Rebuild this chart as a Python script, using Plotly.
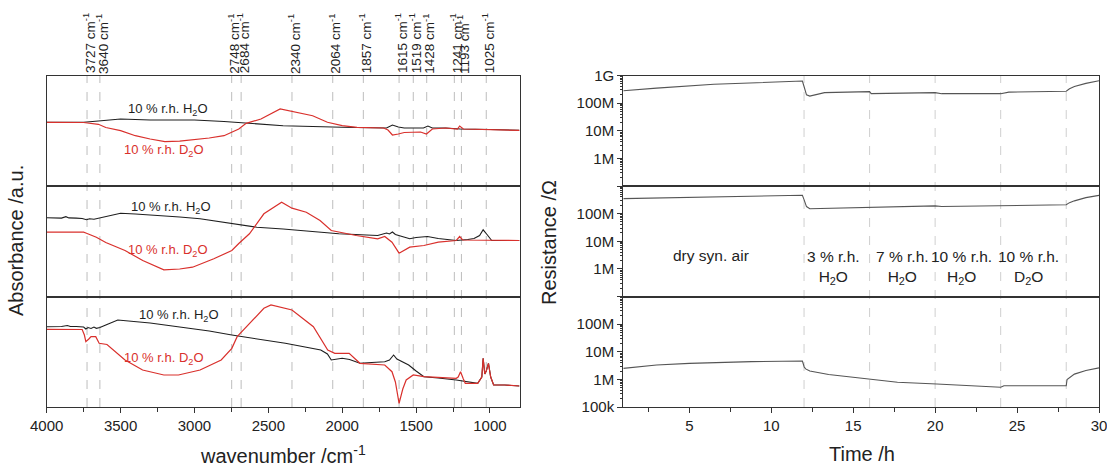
import plotly.graph_objects as go

# ---------------- data: FTIR spectra (absorbance, arbitrary units) ----------------
wn1_h2o = [4000, 3750, 3650, 3500, 3300, 3000, 2800, 2650, 2400, 2000, 1750, 1700, 1660, 1620, 1580, 1450, 1420, 1390, 1300, 1200, 1000, 800]
a1_h2o = [63.7, 63.7, 65, 67, 66, 66, 64.5, 62.7, 60.3, 58.7, 58, 58, 61, 59, 58, 58, 60, 58, 58, 57, 56.5, 55.7]

wn1_d2o = [4000, 3750, 3650, 3600, 3500, 3400, 3300, 3200, 3100, 3000, 2900, 2800, 2700, 2650, 2550, 2420, 2340, 2200, 2100, 2000, 1900, 1750, 1720, 1690, 1660, 1620, 1580, 1470, 1430, 1390, 1300, 1220, 1205, 1180, 1000, 800]
a1_d2o = [63.7, 63.5, 61.7, 58.5, 55.3, 50.3, 47, 44.3, 44.8, 46.3, 48, 50.3, 57, 62.7, 67, 77, 74.3, 70.3, 63.7, 60.3, 58.7, 58, 58, 56, 51, 52, 53.5, 54, 52, 57, 58, 57, 60, 57, 56.5, 55.7]

wn2_h2o = [4000, 3950, 3900, 3870, 3850, 3800, 3760, 3730, 3710, 3680, 3650, 3600, 3500, 3400, 3230, 3100, 2962, 2773, 2578, 2400, 2266, 2023, 1760, 1730, 1700, 1680, 1660, 1640, 1600, 1543, 1500, 1423, 1350, 1228, 1150, 1108, 1070, 1046, 1020, 988, 900, 800]
a2_h2o = [78.7, 78.9, 78.4, 79.8, 78.6, 78.4, 78.0, 76.8, 77.8, 77.2, 78.2, 80.5, 83.3, 82.5, 81, 79.5, 77.7, 73.3, 69.3, 67.5, 66, 62.7, 61, 62, 63.5, 62.5, 64.5, 62, 60, 57.7, 59, 60, 58, 56, 57, 58, 61, 66.7, 62, 56, 56, 56]

wn2_d2o = [4000, 3750, 3735, 3664, 3600, 3470, 3350, 3207, 3100, 3013, 2869, 2747, 2700, 2628, 2530, 2410, 2340, 2243, 2150, 2074, 1905, 1760, 1712, 1680, 1663, 1615, 1580, 1543, 1447, 1350, 1228, 1205, 1185, 1000, 800]
a2_d2o = [64.3, 64.3, 63.5, 59.3, 54, 46, 36, 26.7, 27.5, 29.3, 37.7, 46, 53, 62.7, 82.7, 94.3, 88.3, 84.3, 76, 66, 61, 57.7, 60, 56, 54.3, 43.3, 46, 49.3, 51, 54.3, 56, 60, 56.5, 56, 56]

wn3_h2o = [4000, 3900, 3860, 3840, 3800, 3750, 3735, 3720, 3700, 3680, 3664, 3640, 3600, 3519, 3300, 3108, 2900, 2747, 2500, 2385, 2145, 2100, 2074, 2000, 1950, 1880, 1800, 1712, 1680, 1652, 1630, 1590, 1550, 1500, 1447, 1350, 1228, 1083, 1055, 1046, 1035, 1025, 1010, 995, 975, 900, 800]
a3_h2o = [80.3, 80.5, 81.5, 80.5, 80.5, 80, 78.0, 79.5, 78.5, 80, 78.7, 79.5, 82, 87, 84, 80.3, 76, 72, 66.5, 63.7, 57, 53, 47, 48.7, 47.5, 43.7, 44.5, 45.3, 47, 52, 48, 45.3, 42, 36, 30.3, 29, 27, 23.7, 30, 48.7, 33, 36, 43.7, 30, 22, 22, 21]

wn3_d2o = [4000, 3760, 3745, 3735, 3715, 3700, 3668, 3655, 3645, 3592, 3470, 3351, 3207, 3108, 2962, 2819, 2747, 2711, 2628, 2530, 2482, 2400, 2340, 2195, 2098, 2050, 1953, 1880, 1712, 1663, 1640, 1615, 1590, 1567, 1519, 1447, 1228, 1215, 1199, 1180, 1167, 1083, 1055, 1046, 1035, 1025, 1010, 995, 975, 900, 800]
a3_d2o = [77.7, 77.5, 72, 65.3, 68, 70.3, 70.3, 67, 63.7, 62.5, 47, 37, 32, 32, 37, 47, 58.7, 70.3, 83.7, 98.7, 102, 99.5, 97, 80.3, 57, 53.7, 53.7, 43.7, 42, 35.3, 25, 3.7, 18, 27, 32, 30.3, 28.7, 30, 35.3, 28, 23.7, 23.7, 30, 48.7, 33, 36, 43.7, 30, 22, 22, 21]

peak_wn = [3727, 3640, 2748, 2684, 2340, 2064, 1857, 1615, 1519, 1428, 1241, 1193, 1025]

# ---------------- data: resistance vs time ----------------
t_top = [0.97, 3, 6.5, 9, 11.9, 12.0, 12.15, 12.35, 13.25, 16.0, 16.1, 20.0, 20.4, 24.0, 24.5, 28.0, 28.2, 28.5, 29.2, 30]
r_top = [2.8e8, 3.5e8, 4.8e8, 5.5e8, 6.3e8, 4.0e8, 2.0e8, 1.8e8, 2.4e8, 2.6e8, 2.2e8, 2.4e8, 2.2e8, 2.2e8, 2.5e8, 2.7e8, 3.3e8, 4.0e8, 5.2e8, 6.5e8]

t_mid = [0.97, 4, 8, 11.9, 12.0, 12.15, 12.35, 14, 16.0, 16.1, 20.0, 20.4, 24.0, 28.0, 28.2, 28.5, 29.2, 30]
r_mid = [3.5e8, 3.8e8, 4.3e8, 4.6e8, 3.2e8, 1.8e8, 1.5e8, 1.6e8, 1.7e8, 1.66e8, 1.9e8, 1.8e8, 1.9e8, 2.1e8, 2.5e8, 2.9e8, 3.8e8, 4.6e8]

t_bot = [0.97, 3, 5, 8.8, 11.9, 12.01, 12.1, 12.35, 13.5, 15.5, 16.0, 17.7, 20.1, 22.2, 23.8, 24.0, 24.2, 24.5, 28.0, 28.05, 28.5, 29.2, 30]
r_bot = [2.5e6, 3.3e6, 3.8e6, 4.4e6, 4.6e6, 2.8e6, 2.4e6, 2.0e6, 1.5e6, 1.12e6, 9.8e5, 7.9e5, 6.8e5, 6.0e5, 5.5e5, 5.2e5, 5.9e5, 5.9e5, 5.9e5, 9.8e5, 1.55e6, 2.1e6, 2.6e6]

switch_times = [12, 16, 20, 24, 28]
phase_labels = ["dry syn. air", "3 % r.h.<br>H<sub>2</sub>O", "7 % r.h.<br>H<sub>2</sub>O",
                "10 % r.h.<br>H<sub>2</sub>O", "10 % r.h.<br>D<sub>2</sub>O"]
phase_x = [6.3, 13.8, 18.0, 21.6, 25.7]

r_tickvals = [1e5, 1e6, 1e7, 1e8, 1e9]
r_ticktext_top = ["", "1M", "10M", "100M", "1G"]
r_ticktext_mid = ["", "1M", "10M", "100M", ""]
r_ticktext_bot = ["100k", "1M", "10M", "100M", ""]

# ---------------- layout geometry ----------------
W, H = 1107, 469
FONT = "Liberation Sans, Arial, sans-serif"
TXT = "#222222"
BLACK = "#1e1e1e"
RED = "#d9302c"
GREY = "#555555"


def px_x(p):
    return p / W


def px_y(p):
    return 1 - p / H


top_px, bot_px = 75.5, 407.0
step = (bot_px - top_px) / 3
bounds = [top_px + i * step for i in range(4)]
ydoms = [[px_y(bounds[i + 1]), px_y(bounds[i])] for i in range(3)]  # index 0 = top panel
left_dom = [px_x(46.7), px_x(519.5)]
right_dom = [px_x(623.3), px_x(1099.0)]

fig = go.Figure()

spectra = [(wn1_h2o, a1_h2o, wn1_d2o, a1_d2o), (wn2_h2o, a2_h2o, wn2_d2o, a2_d2o), (wn3_h2o, a3_h2o, wn3_d2o, a3_d2o)]
for i, (xh, yh, xd, yd) in enumerate(spectra):
    ax = "" if i == 0 else str(i + 1)
    fig.add_trace(go.Scatter(x=xh, y=yh, mode="lines", line=dict(color=BLACK, width=1.1),
                             xaxis="x" + ax, yaxis="y" + ax, showlegend=False))
    fig.add_trace(go.Scatter(x=xd, y=yd, mode="lines", line=dict(color=RED, width=1.2),
                             xaxis="x" + ax, yaxis="y" + ax, showlegend=False))

for i, (tt, rr) in enumerate([(t_top, r_top), (t_mid, r_mid), (t_bot, r_bot)]):
    ax = str(i + 4)
    fig.add_trace(go.Scatter(x=tt, y=rr, mode="lines", line=dict(color=GREY, width=1.1),
                             xaxis="x" + ax, yaxis="y" + ax, showlegend=False))

axline = dict(showline=True, linecolor="#333333", linewidth=1.3, mirror=True,
              showgrid=False, zeroline=False, automargin=False)
tickfont = dict(family=FONT, size=15, color=TXT)

layout = dict(width=W, height=H, margin=dict(l=0, r=0, t=0, b=0, autoexpand=False),
              paper_bgcolor="white", plot_bgcolor="rgba(0,0,0,0)",
              font=dict(family=FONT, color=TXT), showlegend=False)

minor_log = [k * 10 ** n for n in range(5, 9) for k in range(2, 10)]
rtexts = [r_ticktext_top, r_ticktext_mid, r_ticktext_bot]

for i in range(3):
    # left spectra panels
    xa = "xaxis" if i == 0 else f"xaxis{i + 1}"
    ya = "yaxis" if i == 0 else f"yaxis{i + 1}"
    anc_y = "y" if i == 0 else f"y{i + 1}"
    anc_x = "x" if i == 0 else f"x{i + 1}"
    xcfg = dict(axline, domain=left_dom, anchor=anc_y, range=[4000, 800])
    if i == 2:
        xcfg.update(ticks="outside", ticklen=5, tickwidth=1.2, tickcolor="#333333", dtick=500,
                    tickfont=tickfont, ticklabeloverflow="allow",
                    minor=dict(ticks="outside", ticklen=4, dtick=250, tickcolor="#333333"))
    else:
        xcfg.update(showticklabels=False, ticks="")
    layout[xa] = xcfg
    layout[ya] = dict(axline, domain=ydoms[i], anchor=anc_x, range=[0, step],
                      showticklabels=False, ticks="")
    # right resistance panels
    xr = f"xaxis{i + 4}"
    yr = f"yaxis{i + 4}"
    xcfg = dict(axline, domain=right_dom, anchor=f"y{i + 4}", range=[0.97, 30.0001])
    if i == 2:
        xcfg.update(ticks="outside", ticklen=5, tickwidth=1.2, tickcolor="#333333", dtick=5, tick0=0,
                    tickfont=tickfont, ticklabeloverflow="allow",
                    minor=dict(ticks="outside", ticklen=4, dtick=2.5, tick0=0, tickcolor="#333333"))
    else:
        xcfg.update(showticklabels=False, ticks="")
    layout[xr] = xcfg
    layout[yr] = dict(axline, domain=ydoms[i], anchor=f"x{i + 4}", type="log", range=[5, 9],
                      tickmode="array", tickvals=r_tickvals, ticktext=rtexts[i],
                      ticks="outside", ticklen=5, tickwidth=1.2, tickcolor="#333333", tickfont=tickfont,
                      ticklabeloverflow="allow",
                      minor=dict(ticks="outside", ticklen=2.5, tickmode="array", tickvals=minor_log,
                                 tickcolor="#333333"))

fig.update_layout(**layout)

shapes = []
for w in peak_wn:
    shapes.append(dict(type="line", xref="x3", yref="paper", x0=w, x1=w,
                       y0=px_y(bot_px), y1=px_y(top_px), layer="below",
                       line=dict(color="#bdbdbd", width=1, dash="dash")))
for t in switch_times:
    shapes.append(dict(type="line", xref="x6", yref="paper", x0=t, x1=t,
                       y0=px_y(bot_px), y1=px_y(top_px), layer="below",
                       line=dict(color="#cfcfcf", width=1, dash="dash")))
fig.update_layout(shapes=shapes)

ann = []
for w in peak_wn:
    ann.append(dict(x=w, xref="x", y=px_y(top_px), yref="paper", text=f"{w} cm<sup>-1</sup>",
                    textangle=-90, showarrow=False, xanchor="center", yanchor="bottom",
                    xshift=1.5, font=dict(family=FONT, size=13.5, color=TXT)))

label_pos = [((3180, 77), (3208, 35.3)), ((3158, 89.3), (3180, 46)), ((3107, 92), (3208, 49))]
for i, ((xh, yh), (xd, yd)) in enumerate(label_pos):
    ax = "" if i == 0 else str(i + 1)
    ann.append(dict(x=xh, y=yh, xref="x" + ax, yref="y" + ax, text="10 % r.h. H<sub>2</sub>O",
                    showarrow=False, xanchor="center", yanchor="middle",
                    font=dict(family=FONT, size=13, color=BLACK)))
    ann.append(dict(x=xd, y=yd, xref="x" + ax, yref="y" + ax, text="10 % r.h. D<sub>2</sub>O",
                    showarrow=False, xanchor="center", yanchor="middle",
                    font=dict(family=FONT, size=13, color=RED)))

for lbl, xp in zip(phase_labels, phase_x):
    ann.append(dict(x=xp, xref="x5", y=px_y(255) if "<br>" not in lbl else px_y(246), yref="paper",
                    text=lbl, showarrow=False,
                    yanchor="top" if "<br>" in lbl else "middle", xanchor="center",
                    font=dict(family=FONT, size=15.5, color=TXT)))

ann.append(dict(x=px_x(16), y=px_y(241), xref="paper", yref="paper", text="Absorbance /a.u.",
                textangle=-90, showarrow=False, xanchor="center", yanchor="middle",
                font=dict(family=FONT, size=20, color=TXT)))
ann.append(dict(x=px_x(549), y=px_y(243), xref="paper", yref="paper", text="Resistance /Ω",
                textangle=-90, showarrow=False, xanchor="center", yanchor="middle",
                font=dict(family=FONT, size=20, color=TXT)))
ann.append(dict(x=px_x(283), y=px_y(454), xref="paper", yref="paper", text="wavenumber /cm<sup>-1</sup>",
                showarrow=False, xanchor="center", yanchor="middle",
                font=dict(family=FONT, size=20, color=TXT)))
ann.append(dict(x=px_x(862), y=px_y(454), xref="paper", yref="paper", text="Time /h",
                showarrow=False, xanchor="center", yanchor="middle",
                font=dict(family=FONT, size=20, color=TXT)))
fig.update_layout(annotations=ann)

fig.write_html("out.html")
